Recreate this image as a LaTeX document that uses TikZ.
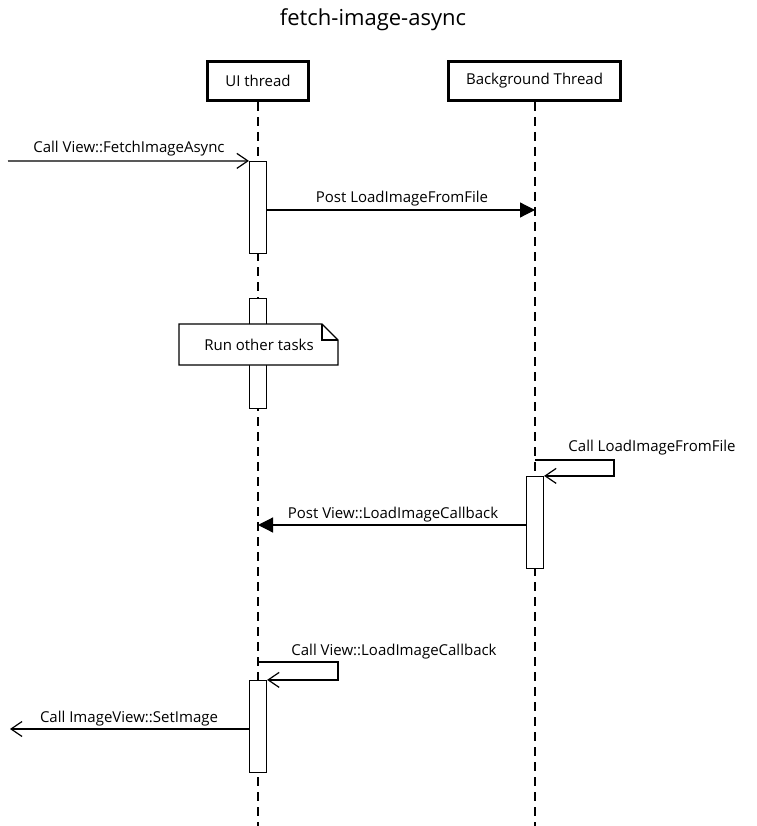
\documentclass[tikz,border=0pt]{standalone}
\usepackage{fontspec}
\setmainfont{Open Sans}
\usetikzlibrary{arrows.meta,calc}
\begin{document}
\begin{tikzpicture}[x=1pt,y=-1pt,line width=1.2pt,
  font=\fontsize{15}{18}\selectfont,
  actor/.style={draw,line width=3pt,minimum height=39pt,inner sep=0pt},
  act/.style={draw,fill=white,minimum width=17pt,minimum height=#1,inner sep=0pt,line width=1.2pt},
  life/.style={dash pattern=on 9pt off 6pt,line width=1.2pt},
  openarr/.style={-{Straight Barb[length=11pt,width=15pt,line width=1.2pt]}},
  fillarr/.style={-{Triangle[length=15pt,width=15pt]}},
  lbl/.style={inner sep=0pt,anchor=base}]
\useasboundingbox (0,0) rectangle (756,826);
% title
\node[lbl,font=\fontsize{22}{26}\selectfont] (title) at (373,26) {fetch-image-async};
% actors
\node[actor,minimum width=101pt] (ui) at (258,81) {UI thread};
\node[actor,minimum width=172pt] (bg) at (534.5,81) {Background Thread};
\coordinate (uiend) at (258,826);
\coordinate (bgend) at (535,826);
\draw[life] (ui.south) -- (uiend);
\draw[life] (bg.south -| bgend) -- (bgend);
% activations
\node[act=92pt] (a1) at (258,207.5) {};
\node[act=110pt] (a2) at (258,353.5) {};
\node[act=92pt] (a3) at (535,522.5) {};
\node[act=92pt] (a4) at (258,726.5) {};
% note
\coordinate (n1) at (179,324);
\coordinate (n2) at (322,324);
\coordinate (n3) at (338,340);
\coordinate (n4) at (338,365);
\coordinate (n5) at (179,365);
\draw[fill=white,line width=1.2pt] (n1) -- (n2) -- (n3) -- (n4) -- (n5) -- cycle;
\draw[line width=1.2pt] (n2) -- (n2 |- n3) -- (n3);
\node[lbl] (note) at (259,350) {Run other tasks};
% message 1
\coordinate (m1s) at (8,161);
\draw[openarr] (m1s) -- (a1.north west);
\node[lbl] (l1) at (129,153) {Call View::FetchImageAsync};
% message 2
\coordinate (m2e) at (535,210);
\coordinate (m2s) at (267,210);
\draw[fillarr] (m2s) -- (m2e);
\node[lbl] (l2) at (402,203) {Post LoadImageFromFile};
% message 3 (self)
\coordinate (m3s) at (535,460);
\coordinate (m3c) at (614,460);
\draw[openarr] (m3s) -- (m3c) |- (a3.north east);
\node[lbl] (l3) at (652,451) {Call LoadImageFromFile};
% message 4
\coordinate (m4s) at (526,525);
\coordinate (m4e) at (258,525);
\draw[fillarr] (m4s) -- (m4e);
\node[lbl] (l4) at (393,518) {Post View::LoadImageCallback};
% message 5 (self)
\coordinate (m5s) at (258,662);
\coordinate (m5c) at (338,662);
\draw[openarr] (m5s) -- (m5c) |- (a4.north east);
\node[lbl] (l5) at (394,655) {Call View::LoadImageCallback};
% message 6
\coordinate (m6s) at (249,729);
\coordinate (m6e) at (10,729);
\draw[openarr] (m6s) -- (m6e);
\node[lbl] (l6) at (129,722) {Call ImageView::SetImage};
\end{tikzpicture}
\end{document}
